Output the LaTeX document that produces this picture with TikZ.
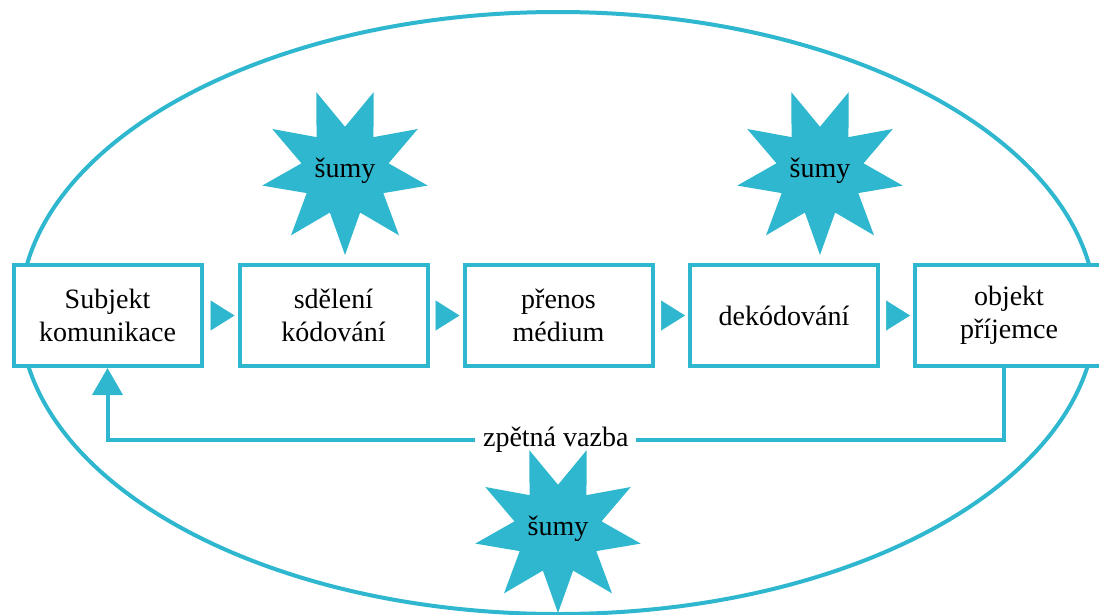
\documentclass[tikz,border=0pt]{standalone}
\usepackage{fontspec}
\setmainfont{Liberation Serif}
\usetikzlibrary{shapes.geometric,arrows.meta}
\definecolor{sumcol}{RGB}{46,183,206}

\begin{document}
\begin{tikzpicture}[x=1pt,y=-1pt,
  every node/.style={font=\fontsize{28}{33}\selectfont},
  stage/.style={draw=sumcol, line width=4pt, fill=white, minimum width=188pt, minimum height=101pt, align=center, inner sep=0pt},
  noise/.style={star, star points=9, star point ratio=1.9, shape border rotate=180, fill=sumcol, minimum size=168pt, inner sep=0pt},
  flow/.style={tips, -{Triangle[length=24pt,width=30pt]}, sumcol, line width=0.5pt, shorten >=3pt},
  back/.style={-{Triangle[length=27pt,width=30pt]}, sumcol, line width=4pt}]
\useasboundingbox (0,0) rectangle (1099,614);
\draw[sumcol, line width=4pt] (558,313) ellipse [x radius=538, y radius=301];
\node[stage] (subj) at (107.5,315.5) {Subjekt\\komunikace};
\node[stage] (code) at (333.5,315.5) {sdělení\\kódování};
\node[stage] (medium) at (558.5,315.5) {přenos\\médium};
\node[stage] (decode) at (784,315.5) {dekódování};
\node[stage] (obj) at (1009,315.5) {objekt\\příjemce};
\foreach \a/\b in {subj/code,code/medium,medium/decode,decode/obj}
  \path[flow] (\a) -- (\b);
% zpetna vazba
\coordinate (fb) at (558,440);
\draw[back] ([xshift=-5pt]obj.south) -- ([xshift=-5pt]obj.south |- fb) -- node[fill=white, text=black, inner xsep=8pt, inner ysep=2pt] {zpětná vazba} (subj.south |- fb) -- (subj.south);
\node[noise] (noise1) at (345,171) {šumy};
\node[noise] (noise2) at (820,171) {šumy};
\node[noise] (noise3) at (558,529) {šumy};
\end{tikzpicture}
\end{document}
